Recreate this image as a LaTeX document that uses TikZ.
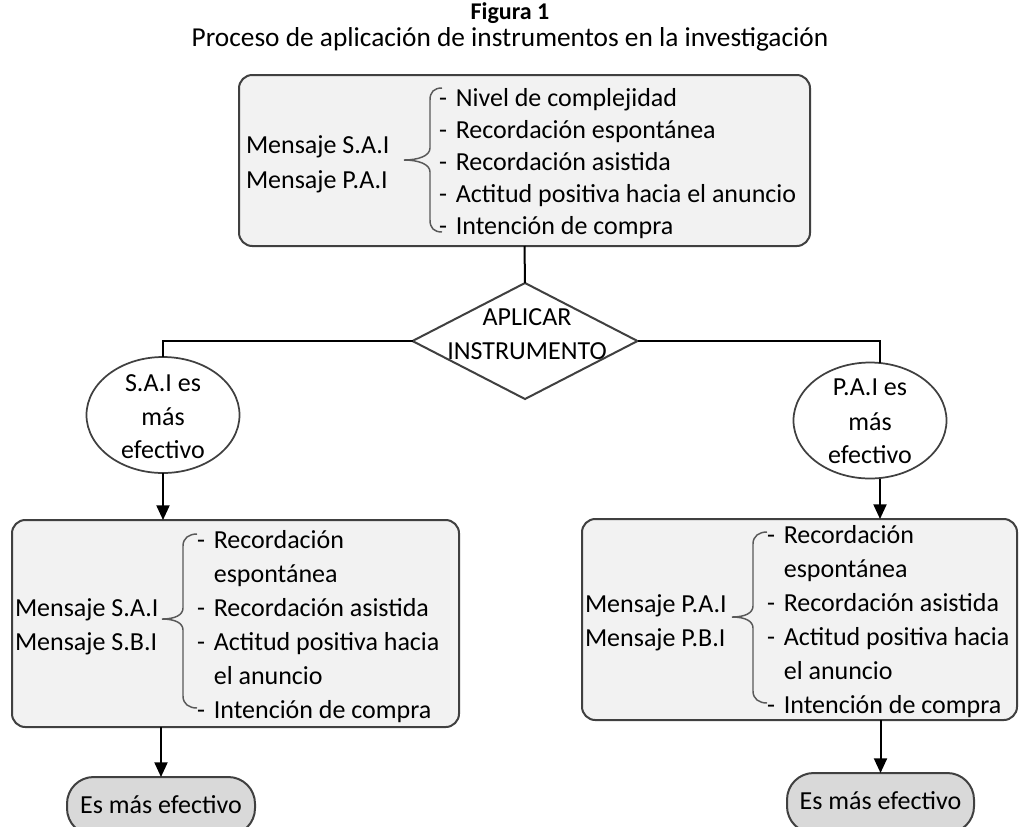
\documentclass[tikz,border=0pt]{standalone}
\usepackage{fontspec}
\setmainfont{Carlito}
\usetikzlibrary{shapes.geometric,arrows.meta,fit}
\definecolor{boxfill}{HTML}{F2F2F2}
\definecolor{termfill}{HTML}{D9D9D9}
\definecolor{edgec}{HTML}{404040}
\definecolor{bracec}{HTML}{595959}
\newcommand{\dsh}{\makebox[12.6pt][l]{-}}
\newcommand{\ndsh}{\hspace*{12.6pt}}
\begin{document}
\begin{tikzpicture}[x=0.75pt,y=-0.75pt,
  every node/.style={inner sep=0pt, outer sep=0pt, font=\fontsize{19.5}{23.5}\selectfont},
  panel/.style={draw=edgec, line width=1.5pt, fill=boxfill, rounded corners=10pt},
  term/.style={draw=edgec, line width=1.5pt, fill=termfill, rounded corners=20pt},
  decis/.style={draw=edgec, line width=1.5pt, diamond, minimum width=168.75pt, minimum height=87pt},
  oval/.style={draw=edgec, line width=1.3pt, ellipse, minimum width=114.75pt, minimum height=87pt},
  txt/.style={anchor=base west},
  ctxt/.style={anchor=base},
  conn/.style={draw=black, line width=1.5pt},
  arr/.style={conn, -{Triangle[width=9.75pt,length=11pt]}},
  bracestyle/.style={draw=bracec, line width=1.1pt}]
\fill[white] (0,0) rectangle (1020,826);
\useasboundingbox (0,0) rectangle (1020,826);

% title
\node[ctxt, font=\fontsize{18}{22}\selectfont\bfseries] (ttl) at (510,19) {Figura 1};
\node[ctxt, font=\fontsize{20.5}{24}\selectfont] (sub) at (510,46) {Proceso de aplicación de instrumentos en la investigación};

% top box
\node[panel, fit={(239,75) (810,246)}] (topbox) {};
\node[txt] (tm1) at (246,153) {Mensaje S.A.I};
\node[txt] (tm2) at (246,188) {Mensaje P.A.I};
\node[txt] (ti1) at (439,106) {\dsh Nivel de complejidad};
\node[txt] (ti2) at (439,138) {\dsh Recordación espontánea};
\node[txt] (ti3) at (439,170) {\dsh Recordación asistida};
\node[txt] (ti4) at (439,202) {\dsh Actitud positiva hacia el anuncio};
\node[txt] (ti5) at (439,234) {\dsh Intención de compra};
\draw[bracestyle] (442,88) .. controls (434,88) and (430,92) .. (430,100) -- (430,148)
  .. controls (430,156) and (418,160) .. (404,160)
  .. controls (418,160) and (430,164) .. (430,172) -- (430,220)
  .. controls (430,228) and (434,232) .. (442,232);

% decision
\node[decis] (dia) at (525,341) {};
\node[ctxt] (dt1) at (527,325) {APLICAR};
\node[ctxt] (dt2) at (527,359) {INSTRUMENTO};

% ellipses
\node[oval] (lel) at (163,415) {};
\node[ctxt] (le1) at (163,391) {S.A.I es};
\node[ctxt] (le2) at (163,425) {más};
\node[ctxt] (le3) at (163,458) {efectivo};
\node[oval] (rel) at (870,420.5) {};
\node[ctxt] (re1) at (870,395) {P.A.I es};
\node[ctxt] (re2) at (870,430) {más};
\node[ctxt] (re3) at (870,463) {efectivo};

% lower left box
\node[panel, fit={(12,520) (459,727)}] (lbox) {};
\node[txt] (lm1) at (15,616) {Mensaje S.A.I};
\node[txt] (lm2) at (15,650) {Mensaje S.B.I};
\node[txt] (li1) at (197,548) {\dsh Recordación};
\node[txt] (li2) at (197,582) {\ndsh espontánea};
\node[txt] (li3) at (197,616) {\dsh Recordación asistida};
\node[txt] (li4) at (197,650) {\dsh Actitud positiva hacia};
\node[txt] (li5) at (197,684) {\ndsh el anuncio};
\node[txt] (li6) at (197,718) {\dsh Intención de compra};
\draw[bracestyle] (197,534) .. controls (189,534) and (183,538) .. (183,546) -- (183,608)
  .. controls (183,615) and (175,619) .. (162,619)
  .. controls (175,619) and (183,623) .. (183,630) -- (183,696)
  .. controls (183,704) and (189,708) .. (197,708);

% lower right box
\node[panel, fit={(582,519) (1017,720)}] (rbox) {};
\node[txt] (rm1) at (585,612) {Mensaje P.A.I};
\node[txt] (rm2) at (585,646) {Mensaje P.B.I};
\node[txt] (ri1) at (767,543) {\dsh Recordación};
\node[txt] (ri2) at (767,577) {\ndsh espontánea};
\node[txt] (ri3) at (767,611) {\dsh Recordación asistida};
\node[txt] (ri4) at (767,645) {\dsh Actitud positiva hacia};
\node[txt] (ri5) at (767,679) {\ndsh el anuncio};
\node[txt] (ri6) at (767,713) {\dsh Intención de compra};
\draw[bracestyle] (767,532) .. controls (759,532) and (753,536) .. (753,544) -- (753,606)
  .. controls (753,613) and (745,617) .. (732,617)
  .. controls (745,617) and (753,621) .. (753,628) -- (753,691)
  .. controls (753,699) and (759,703) .. (767,703);

% terminals
\node[term, fit={(67,777) (255,835)}] (lterm) {};
\node[ctxt] (lt) at (161,813) {Es más efectivo};
\node[term, fit={(787,773) (974,833)}] (rterm) {};
\node[ctxt] (rt) at (880.5,809) {Es más efectivo};

% connectors
\coordinate (rx) at (880,341);
\draw[conn] (topbox.south) -- (dia.north);
\draw[conn] (dia.west) -| (lel.north);
\draw[conn] (dia.east) -- (rx) -- (rx |- rel.north);
\draw[arr] (lel.south) -- (lel.south |- lbox.north);
\draw[arr] (rx |- rel.south) -- (rx |- rbox.north);
\draw[arr] (lterm.north |- lbox.south) -- (lterm.north);
\draw[arr] (rterm.north |- rbox.south) -- (rterm.north);
\end{tikzpicture}
\end{document}
